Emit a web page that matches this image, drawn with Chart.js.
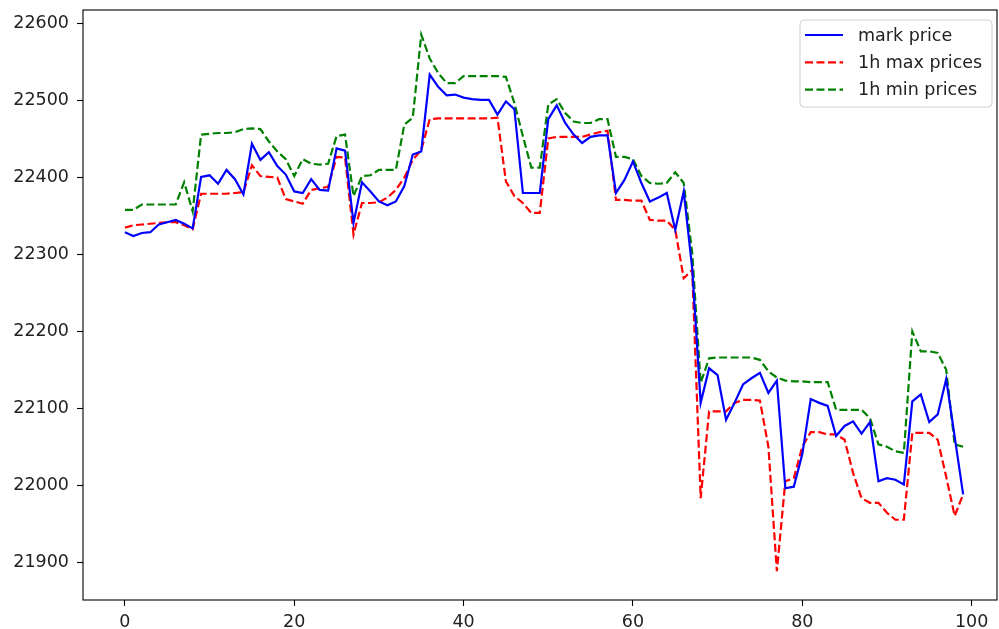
<!DOCTYPE html>
<html>
<head>
<meta charset="utf-8">
<script src="https://cdn.jsdelivr.net/npm/chart.js@4/dist/chart.umd.min.js"></script>
<style>
  html, body { margin: 0; padding: 0; background: #fff; }
  #wrap { width: 999px; height: 629px; position: relative; }
</style>
</head>
<body>
<div id="wrap"><canvas id="c"></canvas></div>
<script>
// Hourly price series
const markPrice = [
  22329, 22324, 22328, 22329, 22339, 22342, 22345, 22340, 22334, 22401,
  22403, 22392, 22410, 22398, 22378, 22444, 22423, 22433, 22415, 22404,
  22382, 22380, 22398, 22384, 22383, 22438, 22435, 22341, 22394, 22382,
  22369, 22364, 22369, 22389, 22430, 22434, 22534, 22518, 22507, 22508,
  22504, 22502, 22501, 22501, 22482, 22499, 22489, 22380, 22380, 22380,
  22476, 22494, 22471, 22456, 22445, 22453, 22455, 22455, 22380, 22397,
  22421, 22393, 22369, 22374, 22380, 22332, 22382, 22282, 22107, 22152,
  22143, 22085, 22107, 22131, 22139, 22146, 22120, 22136, 21996, 21998,
  22040, 22112, 22107, 22103, 22064, 22077, 22083, 22067, 22082, 22005,
  22009, 22007, 22001, 22109, 22118, 22082, 22092, 22138, 22063, 21988
];
const maxPrices = [
  22335, 22338, 22339, 22340, 22341, 22342, 22342, 22338, 22333, 22379,
  22379, 22379, 22379, 22380, 22381, 22416, 22402, 22401, 22400, 22372,
  22369, 22366, 22384, 22386, 22388, 22427, 22426, 22326, 22367, 22367,
  22368, 22374, 22384, 22400, 22423, 22436, 22476, 22477, 22477, 22477,
  22477, 22477, 22477, 22477, 22478, 22395, 22376, 22367, 22354, 22354,
  22451, 22453, 22453, 22453, 22453, 22456, 22459, 22461, 22371, 22371,
  22370, 22370, 22345, 22344, 22344, 22332, 22269, 22280, 21983, 22096,
  22096, 22096, 22107, 22111, 22111, 22110, 22050, 21888, 22005, 22009,
  22050, 22069, 22069, 22066, 22066, 22059, 22016, 21983, 21977, 21977,
  21964, 21955, 21955, 22068, 22068, 22068, 22059, 22011, 21960, 21988
];
const minPrices = [
  22358, 22358, 22365, 22365, 22365, 22365, 22365, 22394, 22356, 22456,
  22457, 22458, 22458, 22459, 22463, 22464, 22463, 22447, 22434, 22424,
  22402, 22424, 22418, 22417, 22418, 22454, 22456, 22376, 22402, 22403,
  22410, 22410, 22410, 22469, 22478, 22586, 22555, 22536, 22523, 22523,
  22532, 22532, 22532, 22532, 22532, 22531, 22497, 22454, 22413, 22413,
  22495, 22502, 22484, 22473, 22471, 22471, 22476, 22476, 22427, 22427,
  22424, 22402, 22393, 22392, 22393, 22407, 22393, 22302, 22133, 22165,
  22166, 22166, 22166, 22166, 22166, 22163, 22148, 22140, 22136, 22135,
  22135, 22134, 22134, 22134, 22098, 22098, 22098, 22098, 22087, 22053,
  22050, 22044, 22042, 22200, 22174, 22174, 22172, 22150, 22053, 22050
];
const xTicks = [0, 20, 40, 60, 80, 100];
const yTicks = [21900, 22000, 22100, 22200, 22300, 22400, 22500, 22600];

const steps = markPrice.map((_, i) => i);
const toPoints = arr => arr.map((v, i) => ({ x: steps[i], y: v }));

const FONT = 'DejaVu Sans';
const FONT_SIZE = 17.5;

// Box around the axes area
const framePlugin = {
  id: 'frame',
  afterDatasetsDraw(chart) {
    const { ctx, chartArea: a } = chart;
    ctx.save();
    ctx.strokeStyle = '#000';
    ctx.lineWidth = 1.1;
    ctx.strokeRect(a.left, a.top, a.right - a.left, a.bottom - a.top);
    ctx.restore();
  }
};

// Legend drawn in the upper right corner of the axes
const cornerLegend = {
  id: 'cornerLegend',
  afterDraw(chart) {
    const { ctx } = chart;
    const x0 = 800, y0 = 20, w = 192, h = 87, r = 4;
    ctx.save();
    ctx.beginPath();
    ctx.moveTo(x0 + r, y0);
    ctx.arcTo(x0 + w, y0, x0 + w, y0 + h, r);
    ctx.arcTo(x0 + w, y0 + h, x0, y0 + h, r);
    ctx.arcTo(x0, y0 + h, x0, y0, r);
    ctx.arcTo(x0, y0, x0 + w, y0, r);
    ctx.closePath();
    ctx.fillStyle = 'rgba(255,255,255,0.8)';
    ctx.fill();
    ctx.strokeStyle = '#d0d0d0';
    ctx.lineWidth = 1;
    ctx.stroke();
    ctx.font = FONT_SIZE + 'px "' + FONT + '"';
    ctx.textBaseline = 'middle';
    ctx.fillStyle = '#222';
    chart.data.datasets.forEach((ds, i) => {
      const y = 35 + i * 27.3;
      ctx.beginPath();
      ctx.strokeStyle = ds.borderColor;
      ctx.lineWidth = ds.borderWidth;
      ctx.setLineDash(ds.borderDash || []);
      ctx.moveTo(805, y);
      ctx.lineTo(843, y);
      ctx.stroke();
      ctx.setLineDash([]);
      ctx.fillText(ds.label, 858, y + 1);
    });
    ctx.restore();
  }
};

new Chart(document.getElementById('c'), {
  type: 'line',
  data: {
    datasets: [
      { label: 'mark price', data: toPoints(markPrice), borderColor: '#0000ff',
        borderWidth: 2.2, pointRadius: 0, tension: 0, fill: false },
      { label: '1h max prices', data: toPoints(maxPrices), borderColor: '#ff0000',
        borderWidth: 2.2, borderDash: [8, 3.5], pointRadius: 0, tension: 0, fill: false },
      { label: '1h min prices', data: toPoints(minPrices), borderColor: '#008000',
        borderWidth: 2.2, borderDash: [8, 3.5], pointRadius: 0, tension: 0, fill: false }
    ]
  },
  options: {
    responsive: true,
    maintainAspectRatio: false,
    animation: false,
    events: [],
    layout: { padding: { top: 10, right: 2, left: 0, bottom: 0 } },
    plugins: { legend: { display: false }, tooltip: { enabled: false } },
    scales: {
      x: {
        type: 'linear',
        min: -4.95,
        max: 103,
        afterBuildTicks: s => { s.ticks = xTicks.map(v => ({ value: v })); },
        afterFit: s => { s.height = 29; s.paddingLeft = 0; s.paddingRight = 0; },
        grid: { drawOnChartArea: false, drawTicks: true, tickLength: 6, tickColor: '#000', tickWidth: 1.1 },
        border: { display: false },
        ticks: { color: '#222', font: { family: FONT, size: FONT_SIZE }, padding: 6, maxRotation: 0,
                 callback: v => String(v) }
      },
      y: {
        type: 'linear',
        min: 21850.6,
        max: 22618,
        afterBuildTicks: s => { s.ticks = yTicks.map(v => ({ value: v })); },
        afterFit: s => { s.width = 83; s.paddingTop = 0; s.paddingBottom = 0; },
        grid: { drawOnChartArea: false, drawTicks: true, tickLength: 6, tickColor: '#000', tickWidth: 1.1 },
        border: { display: false },
        ticks: { color: '#222', font: { family: FONT, size: FONT_SIZE }, padding: 8,
                 callback: v => String(v) }
      }
    }
  },
  plugins: [framePlugin, cornerLegend]
});
</script>
</body>
</html>
